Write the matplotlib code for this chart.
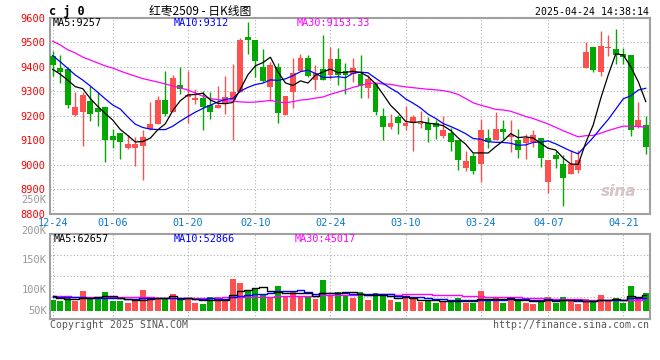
import matplotlib
matplotlib.use('Agg')
import matplotlib.pyplot as plt
import numpy as np
import pandas as pd

# ---------------- data ----------------
holidays = ['2025-01-01', '2025-01-28', '2025-01-29', '2025-01-30', '2025-01-31',
            '2025-02-03', '2025-02-04', '2025-04-04']
dates = [d for d in pd.bdate_range('2024-12-24', '2025-04-24')
         if d.strftime('%Y-%m-%d') not in holidays]

open_ = [9446, 9397, 9392, 9203, 9217, 9261, 9233, 9236, 9119, 9130,
         9070, 9070, 9078, 9146, 9168, 9265, 9217, 9326, 9278, 9263,
         9272, 9242, 9231, 9251, 9263, 9299, 9522, 9510, 9400, 9319,
         9401, 9204, 9296, 9385, 9435, 9347, 9390, 9367, 9432, 9385,
         9370, 9371, 9315, 9329, 9199, 9152, 9193, 9160, 9172, 9165,
         9172, 9169, 9119, 9131, 9101, 8988, 9036, 9003, 9108, 9101,
         9146, 9115, 9101, 9090, 9094, 9108, 8927, 9040, 9001, 8961,
         8978, 9397, 9481, 9381, 9479, 9473, 9452, 9449, 9156, 9162]
close = [9408, 9381, 9244, 9236, 9285, 9209, 9217, 9100, 9100, 9094,
         9086, 9083, 9111, 9168, 9265, 9209, 9356, 9310, 9286, 9274,
         9236, 9217, 9242, 9278, 9299, 9510, 9509, 9426, 9344, 9408,
         9213, 9281, 9374, 9438, 9363, 9374, 9347, 9432, 9367, 9367,
         9397, 9323, 9351, 9217, 9152, 9172, 9172, 9172, 9193, 9169,
         9143, 9152, 9141, 9094, 9017, 9015, 8972, 9142, 9092, 9146,
         9135, 9121, 9058, 9108, 9122, 9029, 9017, 9023, 8944, 9001,
         9019, 9462, 9387, 9486, 9482, 9449, 9441, 9142, 9183, 9074]
high = [9465, 9449, 9400, 9296, 9296, 9323, 9299, 9236, 9146, 9130,
        9120, 9111, 9143, 9255, 9281, 9383, 9367, 9401, 9383, 9310,
        9302, 9296, 9321, 9362, 9411, 9517, 9585, 9510, 9473, 9421,
        9415, 9281, 9435, 9452, 9449, 9408, 9530, 9483, 9476, 9415,
        9435, 9449, 9367, 9329, 9233, 9209, 9203, 9240, 9203, 9220,
        9193, 9183, 9199, 9149, 9101, 9056, 9047, 9187, 9146, 9217,
        9183, 9183, 9146, 9126, 9142, 9108, 9017, 9056, 9040, 9060,
        9060, 9503, 9481, 9547, 9530, 9555, 9476, 9449, 9255, 9201]
low = [9363, 9336, 9233, 9197, 9078, 9179, 9160, 9010, 9070, 9023,
       9065, 8996, 8939, 9140, 9168, 9200, 9217, 9289, 9169, 9250,
       9141, 9187, 9230, 9209, 9100, 9299, 9452, 9359, 9340, 9261,
       9172, 9204, 9233, 9385, 9360, 9304, 9345, 9350, 9326, 9291,
       9340, 9274, 9272, 9203, 9101, 9146, 9127, 9142, 9054, 9149,
       9094, 9105, 9108, 9056, 8978, 8972, 8962, 8927, 9070, 9101,
       9105, 9053, 9029, 9023, 9074, 8992, 8883, 8985, 8829, 8961,
       8965, 9397, 9381, 9364, 9446, 9411, 9411, 9119, 9150, 9042]
volume = [41600, 37700, 54600, 37700, 76700, 48100, 48100, 72800, 37700, 37700,
          29900, 37700, 80600, 48100, 48100, 48100, 65000, 42900, 52000, 29900,
          26000, 54600, 54600, 48100, 123500, 107900, 76700, 87100, 63700, 54600,
          96200, 58500, 74100, 58500, 58500, 45500, 119600, 61100, 75400, 62400,
          52000, 75400, 42900, 71500, 66300, 42900, 36400, 55900, 52000, 36400,
          37700, 32500, 36400, 42900, 52000, 32500, 32500, 79300, 39000, 55900,
          32500, 49400, 46800, 32500, 27300, 42900, 55900, 29900, 55900, 39000,
          27300, 46800, 33800, 62400, 42900, 52000, 32500, 97500, 55900, 71500]

# moving-average values for the days before a full window exists
ma5_head = [9390, 9370, 9346, 9319]
ma10_head = [9446, 9421, 9394, 9367, 9346, 9322, 9296, 9269, 9244]
ma30_head = [9505, 9490, 9470, 9457, 9440, 9428, 9416, 9404, 9395, 9383,
             9372, 9362, 9352, 9345, 9338, 9330, 9322, 9314, 9305, 9293,
             9280, 9270, 9266, 9262, 9259, 9257, 9255, 9256, 9259]
vma5_head = [58000, 52000, 48000, 47000]
vma10_head = [55000, 54000, 54000, 53000, 53000, 52000, 51000, 50000, 49000]
vma30_head = [57000, 57000, 57000, 56000, 56000, 56000, 55000, 55000, 54000, 54000,
              53000, 53000, 53000, 53000, 52000, 52000, 52000, 52000, 52000, 52000,
              52000, 52000, 52000, 53000, 54000, 55000, 55000, 55000, 56000]

price_ticks = [8800, 8900, 9000, 9100, 9200, 9300, 9400, 9500, 9600]
date_tick_labels = ['12-24', '01-06', '01-20', '02-10', '02-24', '03-10', '03-24', '04-07', '04-21']
vol_tick_labels = ['250K', '200K', '150K', '100K', '50K']

title_code = 'c j 0'
title_name = '红枣2509 - 日K线图'
timestamp = '2025-04-24 14:38:14'
ma_labels = ['MA5:9257', 'MA10:9312', 'MA30:9153.33']
vma_labels = ['MA5:62657', 'MA10:52866', 'MA30:45017']

# ---------------- helpers ----------------
def moving_avg(values, n, head):
    s = pd.Series(values, dtype=float).rolling(n).mean().to_numpy()
    s[:n - 1] = head
    return s

o = np.array(open_, float)
c = np.array(close, float)
h = np.array(high, float)
l = np.array(low, float)
v = np.array(volume, float)
n = len(c)
x = np.arange(n)

RED = '#ff5050'
GREEN = '#00a800'
GRID = '#b0b0b0'
FRAME = '#a0a0a0'
MONO = 'DejaVu Sans Mono'
cols = np.where(c >= o, RED, GREEN)

W, H = 660, 360
fig = plt.figure(figsize=(W / 100, H / 100), dpi=100)
fig.patch.set_facecolor('white')

def px_axes(x0, y0, x1, y1):
    return fig.add_axes([x0 / W, 1 - y1 / H, (x1 - x0) / W, (y1 - y0) / H])

def ptext(px, py, s, **kw):
    fig.text(px / W, 1 - py / H, s, **kw)

XL = (-0.36, 79.56)
date_keys = [d.strftime('%m-%d') for d in dates]
tick_pos = [date_keys.index(t) for t in date_tick_labels]

# ---------------- main panel ----------------
ax = px_axes(50, 18, 650, 213.5)
ax.set_xlim(*XL)
ax.set_ylim(price_ticks[0], price_ticks[-1])
ax.set_yticks(price_ticks)
ax.set_yticklabels([str(t) for t in price_ticks], color='#ff0000', fontsize=7.5, family=MONO)
ax.set_xticks(tick_pos)
ax.set_xticklabels(date_tick_labels, color='#0a78c8', fontsize=7.3, family=MONO)
ax.tick_params(length=0, pad=3)
ax.grid(True, color=GRID, linestyle=(0, (1, 2)), linewidth=0.8)
ax.set_axisbelow(True)
for sp in ax.spines.values():
    sp.set_color(FRAME)
    sp.set_linewidth(1.5)

ax.vlines(x, l, h, colors=cols, linewidth=1, zorder=2)
body_bottom = np.minimum(o, c)
body_h = np.maximum(np.abs(c - o), 4)
ax.bar(x, body_h, bottom=body_bottom, width=0.78, color=cols, linewidth=0, zorder=3)

ma5 = moving_avg(c, 5, ma5_head)
ma10 = moving_avg(c, 10, ma10_head)
ma30 = moving_avg(c, 30, ma30_head)
ax.plot(x, ma30, color='#ff00ff', lw=0.9, zorder=4)
ax.plot(x, ma10, color='#0000ff', lw=0.9, zorder=4)
ax.plot(x, ma5, color='black', lw=0.9, zorder=5)

# watermark
ax.text(0.978, 0.115, 'sina', transform=ax.transAxes, ha='right', va='center',
        fontsize=11, fontweight='bold', fontstyle='italic', color='#d8c4c4', zorder=1)

# ---------------- volume panel ----------------
axv = px_axes(50, 234.3, 650, 318.5)
k = 3900.0
vy0, vy1 = -(318.5 - 311) * k, (311 - 234.3) * k
axv.set_xlim(*XL)
axv.set_ylim(vy0, vy1)
axv.set_xticks(tick_pos)
axv.set_xticklabels([])
axv.set_yticks([vy0 + f * (vy1 - vy0) for f in (0.25, 0.5, 0.75)])
axv.set_yticklabels([])
axv.tick_params(length=0)
axv.grid(True, color=GRID, linestyle=(0, (1, 2)), linewidth=0.8)
axv.set_axisbelow(True)
for sp in axv.spines.values():
    sp.set_color(FRAME)
    sp.set_linewidth(1.5)
axv.bar(x, v, width=0.78, color=cols, linewidth=0, zorder=2)
vma5 = moving_avg(v, 5, vma5_head)
vma10 = moving_avg(v, 10, vma10_head)
vma30 = moving_avg(v, 30, vma30_head)
axv.plot(x, vma30, color='#ff00ff', lw=1.0, drawstyle='steps-mid', zorder=3)
axv.plot(x, vma10, color='#0000ff', lw=1.0, drawstyle='steps-mid', zorder=3)
axv.plot(x, vma5, color='black', lw=1.0, drawstyle='steps-mid', zorder=4)

# volume axis labels (positioned as in the original)
for lab, py in zip(vol_tick_labels, [200, 230.7, 260, 290, 310.7]):
    ptext(46.7, py, lab, ha='right', va='center', color='#999999', fontsize=7.5, family=MONO)

# ---------------- texts ----------------
ptext(49, 11, title_code, ha='left', va='center', fontsize=8.5, fontweight='bold', family=MONO)
ptext(200, 11, title_name, ha='center', va='center', fontsize=8.5,
      family=['Noto Sans CJK SC', 'DejaVu Sans'])
ptext(649, 12, timestamp, ha='right', va='center', fontsize=7.1, family=MONO)

for lab, px, col in zip(ma_labels, [53, 174, 297], ['black', '#0000ff', '#ff00ff']):
    ptext(px, 23.5, lab, ha='left', va='center', fontsize=7.3, family=MONO, color=col)
for lab, px, col in zip(vma_labels, [54, 174, 295], ['black', '#0000ff', '#ff00ff']):
    ptext(px, 238.5, lab, ha='left', va='center', fontsize=7.3, family=MONO, color=col)

ptext(50, 324.5, 'Copyright 2025 SINA.COM', ha='left', va='center', fontsize=7.1,
      family=MONO, color='#555555')
ptext(649, 324.5, 'http://finance.sina.com.cn', ha='right', va='center', fontsize=7.1,
      family=MONO, color='#555555')

fig.savefig('out.png', dpi=100, facecolor='white')
